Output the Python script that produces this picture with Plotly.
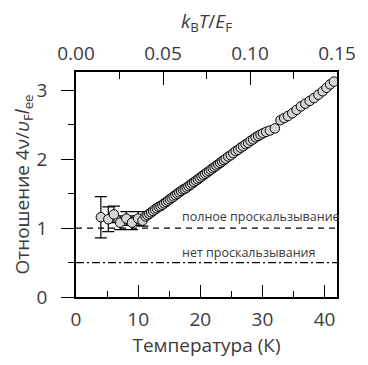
import plotly.graph_objects as go

# Low-temperature points with error bars
T_low = [4.0, 5.2, 6.1, 7.1, 8.1, 9.0, 10.0, 10.7]
v_low = [1.16, 1.13, 1.20, 1.08, 1.14, 1.08, 1.14, 1.11]
err_low = [0.30, 0.18, 0.12, 0.10, 0.10, 0.10, 0.10, 0.08]

# Main data
T_main = [11.2, 11.5, 11.8, 12.1, 12.4, 12.7, 13.0, 13.3, 13.6, 13.9, 14.2, 14.5, 14.8,
          15.1, 15.4, 15.7, 16.0, 16.3, 16.6, 16.9, 17.2, 17.5, 17.8, 18.1, 18.4, 18.7,
          19.0, 19.3, 19.6, 19.9, 20.2, 20.5, 20.8, 21.1, 21.4, 21.7, 22.0, 22.3, 22.6,
          22.9, 23.2, 23.5, 23.8, 24.1, 24.5, 24.9, 25.3, 25.7, 26.1, 26.5, 26.9, 27.3,
          27.7, 28.1, 28.5, 28.9, 29.3, 29.7, 30.1, 30.6, 31.2, 32.0,
          32.9, 33.5, 34.1, 34.8, 35.5, 36.2, 36.9, 37.6, 38.3, 39.0, 39.7, 40.3, 40.9, 41.5]
v_main = [1.17, 1.19, 1.21, 1.23, 1.25, 1.27, 1.29, 1.31, 1.32, 1.34, 1.36, 1.38, 1.40,
          1.42, 1.44, 1.46, 1.48, 1.50, 1.52, 1.54, 1.56, 1.57, 1.59, 1.61, 1.63, 1.65,
          1.67, 1.69, 1.71, 1.73, 1.75, 1.77, 1.79, 1.81, 1.83, 1.85, 1.87, 1.89, 1.91,
          1.93, 1.95, 1.97, 1.99, 2.01, 2.04, 2.06, 2.09, 2.12, 2.14, 2.17, 2.19, 2.22,
          2.24, 2.27, 2.29, 2.32, 2.34, 2.36, 2.38, 2.40, 2.42, 2.45,
          2.57, 2.60, 2.63, 2.67, 2.72, 2.77, 2.81, 2.85, 2.89, 2.94, 2.99, 3.04, 3.09, 3.13]

# Reference levels
full_slip = 1.0
no_slip = 0.5
x_span = [0, 42]
label_full = "полное проскальзывание"
label_no = "нет проскальзывания"

FONT = "Open Sans"
TXT = "#3a3a3a"
FS = 19

fig = go.Figure()

fig.add_trace(go.Scatter(x=x_span, y=[full_slip, full_slip], mode="lines",
                         line=dict(color="black", width=1.3, dash="6px,5px"),
                         showlegend=False, hoverinfo="skip"))
fig.add_trace(go.Scatter(x=x_span, y=[no_slip, no_slip], mode="lines",
                         line=dict(color="black", width=1.3, dash="8px,3px,2px,3px"),
                         showlegend=False, hoverinfo="skip"))

fig.add_trace(go.Scatter(x=T_low, y=v_low, mode="markers",
                         marker=dict(size=9.5, color="#d4d4d4", line=dict(color="black", width=1)),
                         error_y=dict(type="data", array=err_low, color="black", thickness=1.2, width=6),
                         showlegend=False))
fig.add_trace(go.Scatter(x=T_main, y=v_main, mode="markers",
                         marker=dict(size=9.5, color="#d4d4d4", line=dict(color="black", width=1)),
                         showlegend=False))

# invisible trace for top axis
fig.add_trace(go.Scatter(x=[0, 0.15], y=[None, None], xaxis="x2", mode="markers",
                         showlegend=False, hoverinfo="skip"))

fig.add_annotation(x=16.7, y=1.17, text=label_full, showarrow=False, xanchor="left",
                   yanchor="middle", font=dict(family=FONT, size=12.5, color=TXT))
fig.add_annotation(x=16.7, y=0.64, text=label_no, showarrow=False, xanchor="left",
                   yanchor="middle", font=dict(family=FONT, size=12.5, color=TXT))

fig.update_layout(
    width=360, height=357,
    margin=dict(l=68, r=25, t=62, b=68),
    plot_bgcolor="white", paper_bgcolor="white",
    font=dict(family=FONT, size=FS, color=TXT),
    xaxis=dict(range=[0, 42], showline=True, linecolor="black", linewidth=1.5,
               mirror=False, ticks="inside", ticklen=12, tickwidth=1.3, tickcolor="black",
               tickvals=[0, 10, 20, 30, 40], showgrid=False, zeroline=False,
               ticklabelstandoff=4,
               minor=dict(tickvals=[5, 15, 25, 35], ticks="inside", ticklen=6, tickcolor="black"),
               title=dict(text="Температура (К)", font=dict(size=FS), standoff=3),
               tickfont=dict(size=FS)),
    xaxis2=dict(range=[0, 0.15], overlaying="x", side="top", showline=True,
                linecolor="black", linewidth=1.5, ticks="inside", ticklen=13, tickwidth=1.3,
                tickcolor="black", tickvals=[0, 0.05, 0.10, 0.15],
                ticktext=["0.00", "0.05", "0.10", "0.15"], showgrid=False, zeroline=False,
                ticklabelstandoff=3,
                minor=dict(tickvals=[0.025, 0.075, 0.125], ticks="inside", ticklen=7, tickcolor="black"),
                title=dict(text="<i>k</i><sub>B</sub><i>T</i>/<i>E</i><sub>F</sub>",
                           font=dict(size=FS), standoff=6),
                tickfont=dict(size=FS)),
    yaxis=dict(range=[0, 3.27], showline=True, linecolor="black", linewidth=1.5,
               mirror=True, ticks="outside", ticklen=13, tickwidth=1.3, tickcolor="black",
               tickvals=[0, 1, 2, 3], showgrid=False, zeroline=False,
               ticklabelstandoff=10,
               minor=dict(tickvals=[0.5, 1.5, 2.5], ticks="outside", ticklen=6, tickcolor="black"),
               title=dict(text="Отношение 4ν/<i>υ</i><sub>F</sub><i>l</i><sub>ee</sub>",
                          font=dict(size=FS), standoff=1),
               tickfont=dict(size=FS)),
)

fig.write_html("out.html")
